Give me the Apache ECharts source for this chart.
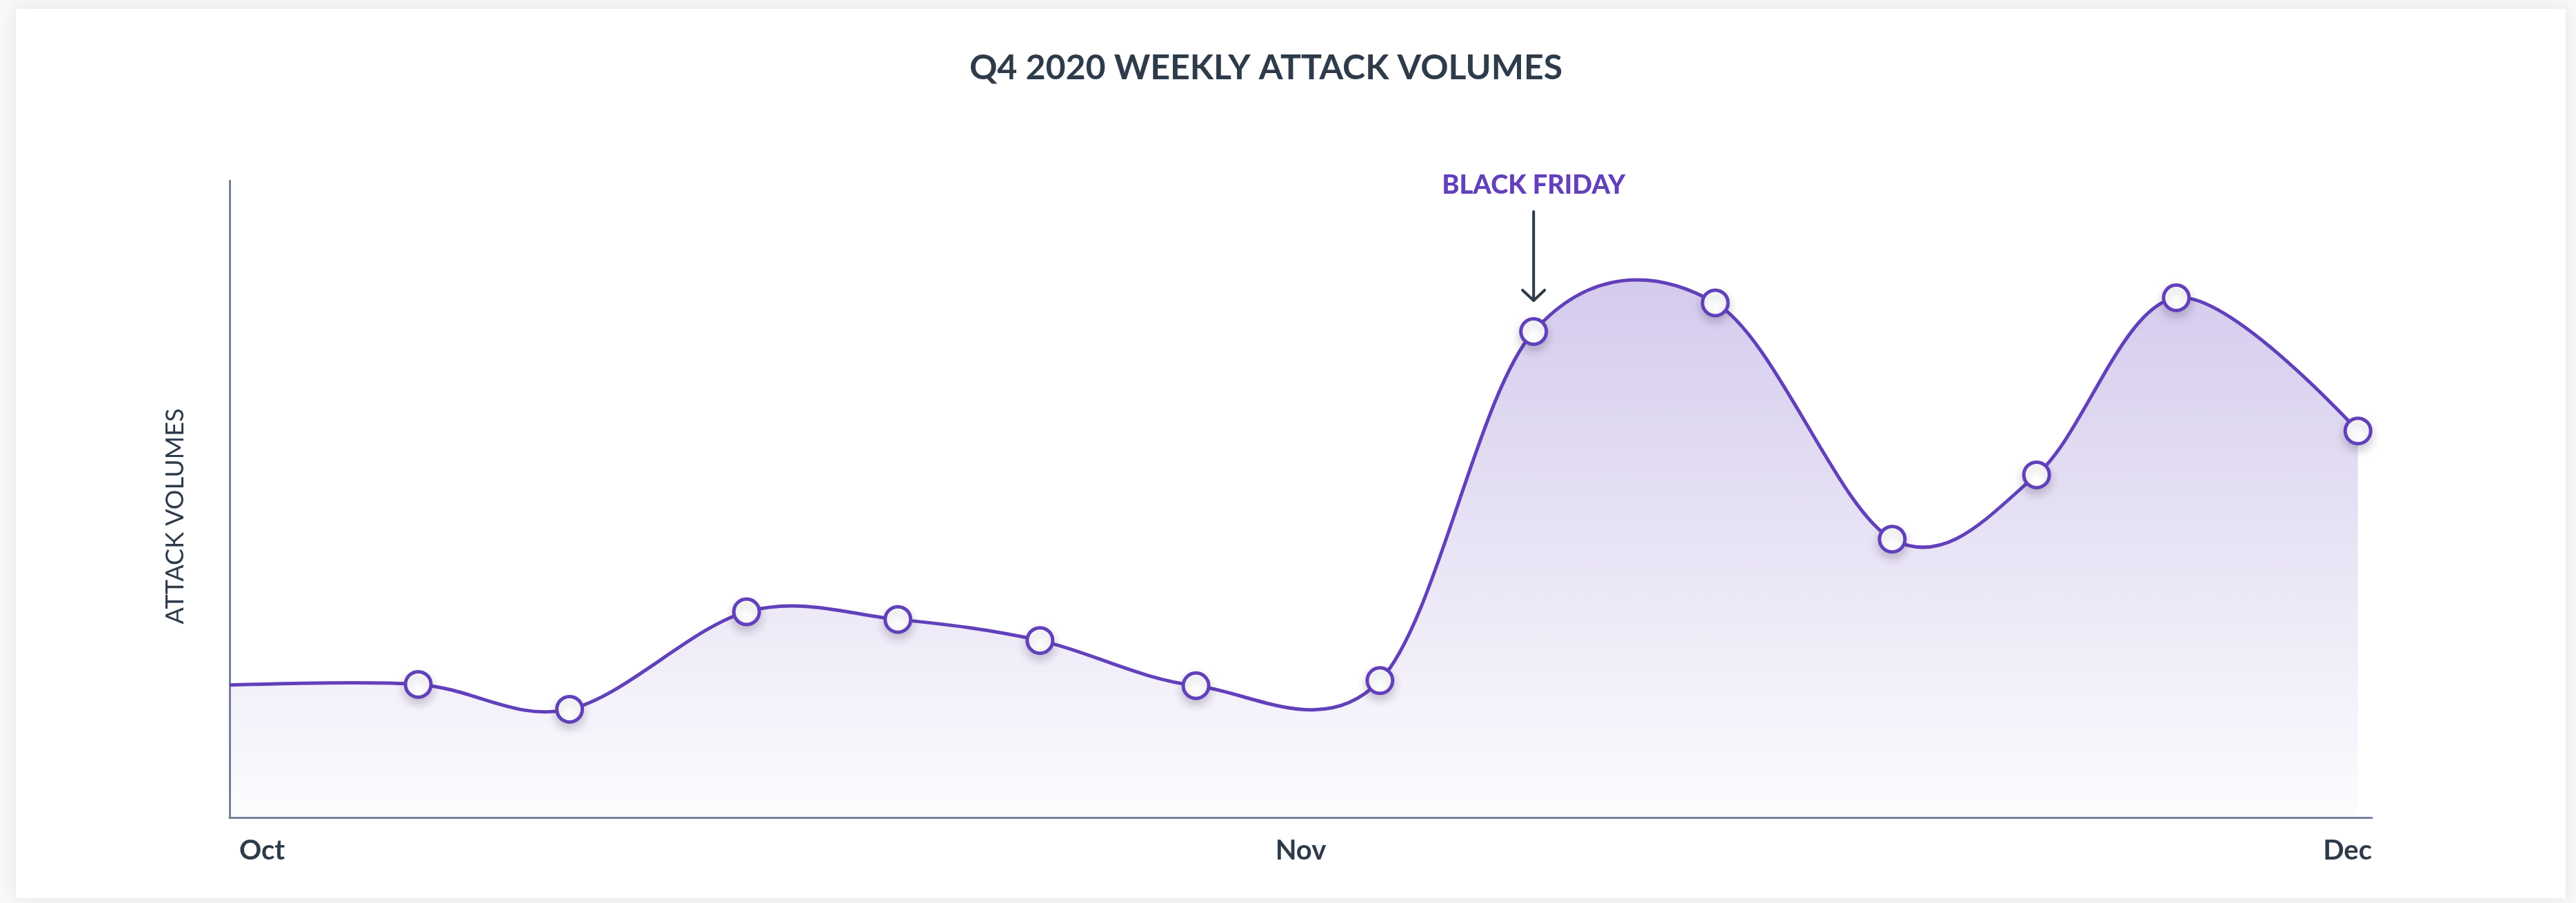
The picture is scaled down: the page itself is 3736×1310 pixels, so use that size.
<!DOCTYPE html>
<html>
<head>
<meta charset="utf-8">
<title>Q4 2020 Weekly Attack Volumes</title>
<script src="https://cdn.jsdelivr.net/npm/echarts@6/dist/echarts.min.js"></script>
<style>
  html, body { margin: 0; padding: 0; width: 3736px; height: 1310px; background: #f8f8f9; overflow: hidden; }
  #card { position: absolute; left: 23px; top: 13px; width: 3698px; height: 1290px; background: #ffffff;
          box-shadow: 0 0 22px rgba(30, 40, 60, 0.09); }
  #chart { position: absolute; left: 0; top: 0; width: 3736px; height: 1310px; }
</style>
</head>
<body>
<div id="card"></div>
<div id="chart"></div>
<script>
// Day of the quarter (0 = Oct 1) for each weekly reading
const weekDays = [0, 8.1, 14.6, 22.2, 28.7, 34.8, 41.5, 49.4, 56.0, 63.8, 71.4, 77.6, 83.6, 91.4];
// Relative attack volume for each reading (0–100 scale)
const attackVolumes = [20.8, 20.9, 17.0, 32.3, 31.1, 27.8, 20.7, 21.5, 76.3, 80.8, 43.7, 53.8, 81.6, 60.7];
// Month labels along the quarter
const monthLabels = ['Oct', 'Nov', 'Dec'];
const quarterDays = 92;
// Reading flagged with the annotation
const blackFridayIndex = 8;
const blackFridayText = 'BLACK FRIDAY';

const PURPLE = '#6240bb';
const INK = '#2e3b4a';
const AXIS = '#70839a';
const K = 1 / 6; // cardinal spline factor (tension 0)

const points = weekDays.map((d, i) => [d, attackVolumes[i]]);

// Cardinal spline through pixel points; returns the segment commands after the first point
function splineSegments(px) {
  const n = px.length;
  let d = '';
  for (let i = 0; i < n - 1; i++) {
    const p0 = px[i - 1], p1 = px[i], p2 = px[i + 1], p3 = px[i + 2];
    const c1 = p0 ? [p1[0] + (p2[0] - p0[0]) * K, p1[1] + (p2[1] - p0[1]) * K] : p1;
    const c2 = p3 ? [p2[0] - (p3[0] - p1[0]) * K, p2[1] - (p3[1] - p1[1]) * K] : p2;
    d += ' C' + c1[0] + ' ' + c1[1] + ' ' + c2[0] + ' ' + c2[1] + ' ' + p2[0] + ' ' + p2[1];
  }
  return d;
}

const chart = echarts.init(document.getElementById('chart'), null, { renderer: 'canvas' });

chart.setOption({
  animation: false,
  backgroundColor: 'transparent',
  title: {
    text: 'Q4 2020 WEEKLY ATTACK VOLUMES',
    left: 1836,
    top: 74,
    padding: 0,
    textAlign: 'center',
    textStyle: { fontFamily: 'Lato', fontWeight: 'bold', fontSize: 50, color: INK }
  },
  grid: { left: 333, right: 296, top: 262, bottom: 124, containLabel: false },
  xAxis: {
    type: 'value',
    min: 0,
    max: quarterDays,
    interval: quarterDays / 2,
    axisLine: { show: true, lineStyle: { color: AXIS, width: 3 } },
    axisTick: { show: false },
    splitLine: { show: false },
    axisLabel: {
      margin: 28,
      alignMinLabel: 'left',
      alignMaxLabel: 'right',
      fontFamily: 'Lato',
      fontWeight: 'bold',
      fontSize: 40,
      color: INK,
      formatter: (val, idx) => idx === 0 ? '{first|' + monthLabels[0] + '}' : monthLabels[idx],
      rich: {
        first: { fontFamily: 'Lato', fontWeight: 'bold', fontSize: 40, color: INK, padding: [0, 0, 0, 14] }
      }
    }
  },
  yAxis: {
    type: 'value',
    min: 0,
    max: 100,
    name: 'ATTACK VOLUMES',
    nameLocation: 'middle',
    nameGap: 61,
    nameTextStyle: { fontFamily: 'Lato', fontSize: 36, color: INK, padding: [0, 50, 0, 0] },
    axisLine: { show: true, lineStyle: { color: AXIS, width: 3 } },
    axisTick: { show: false },
    axisLabel: { show: false },
    splitLine: { show: false }
  },
  series: [
    {
      // smooth curve and shaded area, drawn once through the axis scales
      type: 'custom',
      data: points,
      z: 2,
      silent: true,
      renderItem: (params, api) => {
        if (params.dataIndex !== 0) return null;
        const px = points.map(p => api.coord(p));
        const baseY = api.coord([0, 0])[1];
        const segs = splineSegments(px);
        const first = px[0], last = px[px.length - 1];
        const curve = 'M' + first[0] + ' ' + first[1] + segs;
        const area = 'M' + first[0] + ' ' + baseY + ' L' + first[0] + ' ' + first[1] + segs +
                     ' L' + last[0] + ' ' + baseY + ' Z';
        return {
          type: 'group',
          children: [
            {
              type: 'path',
              shape: { pathData: area },
              style: {
                fill: new echarts.graphic.LinearGradient(0, 0, 0, 1, [
                  { offset: 0, color: 'rgba(98, 64, 187, 0.27)' },
                  { offset: 1, color: 'rgba(98, 64, 187, 0.015)' }
                ]),
                stroke: null
              }
            },
            {
              type: 'path',
              shape: { pathData: curve },
              style: { fill: null, stroke: PURPLE, lineWidth: 5, lineJoin: 'round' }
            }
          ]
        };
      }
    },
    {
      // weekly reading markers (the opening value only anchors the curve)
      type: 'scatter',
      data: points.slice(1),
      symbol: 'circle',
      symbolSize: 37,
      z: 4,
      itemStyle: {
        color: '#ffffff',
        borderColor: PURPLE,
        borderWidth: 5,
        shadowBlur: 14,
        shadowColor: 'rgba(40, 30, 70, 0.22)',
        shadowOffsetY: 7,
        opacity: 1
      },
      emphasis: { disabled: true }
    }
  ]
});

// Annotation above the Black Friday reading: label and a downward arrow
const bf = chart.convertToPixel({ xAxisIndex: 0, yAxisIndex: 0 }, points[blackFridayIndex]);
const tipY = bf[1] - 45;
chart.setOption({
  graphic: [
    {
      type: 'text',
      x: bf[0],
      y: bf[1] - 212,
      style: {
        text: blackFridayText,
        align: 'center',
        verticalAlign: 'middle',
        fontFamily: 'Lato',
        fontWeight: 900,
        fontSize: 38,
        fill: PURPLE
      },
      z: 10
    },
    {
      type: 'line',
      shape: { x1: bf[0], y1: bf[1] - 174, x2: bf[0], y2: tipY },
      style: { stroke: INK, lineWidth: 4, lineCap: 'round' },
      z: 10
    },
    {
      type: 'polyline',
      shape: { points: [[bf[0] - 16, tipY - 15], [bf[0], tipY], [bf[0] + 16, tipY - 15]] },
      style: { stroke: INK, lineWidth: 4, lineCap: 'round', lineJoin: 'round', fill: null },
      z: 10
    }
  ]
});
</script>
</body>
</html>
